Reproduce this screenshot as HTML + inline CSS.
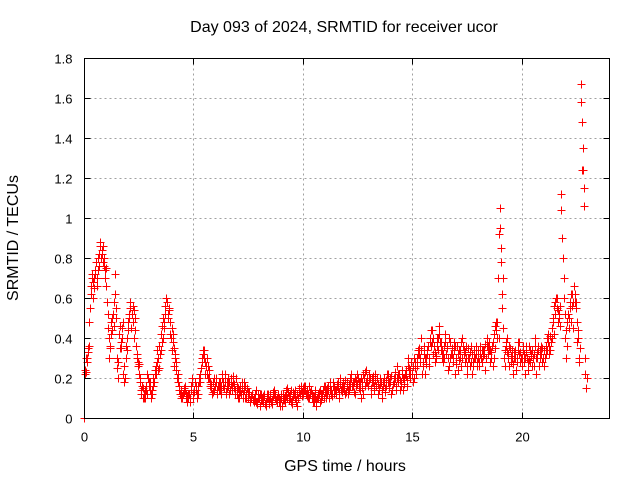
<!DOCTYPE html>
<html><head><meta charset="utf-8"><style>
body{margin:0;background:#fff}
svg{display:block;font-family:"Liberation Sans",sans-serif}
</style></head><body>
<svg id="chart" width="640" height="480" viewBox="0 0 640 480">
<rect width="640" height="480" fill="#fff"/>
<g id="grid"></g>
<g id="points"></g>
<rect x="84.5" y="58.5" width="525" height="360" fill="none" stroke="#000" stroke-width="1"/>
<g id="ticks"></g>
<text x="344" y="32" font-size="16" text-anchor="middle">Day 093 of 2024, SRMTID for receiver ucor</text>
<text x="345" y="471" font-size="16" text-anchor="middle">GPS time / hours</text>
<text transform="translate(18,238) rotate(-90)" font-size="16" text-anchor="middle">SRMTID / TECUs</text>
</svg>
<script>
const xTicks=[0,5,10,15,20];
const yTicks=[0,0.2,0.4,0.6,0.8,1,1.2,1.4,1.6,1.8];
const yTickLabels=["0","0.2","0.4","0.6","0.8","1","1.2","1.4","1.6","1.8"];
const tStart=0, tStep=0.1;
const seriesA=[0.00,0.23,0.33,0.62,0.68,0.72,0.70,0.82,0.84,0.80,0.75,0.45,0.35,0.50,0.72,0.30,0.42,0.35,0.22,0.30,0.48,0.55,0.52,0.40,0.30,0.27,0.12,0.15,0.10,0.22,
0.14,0.12,0.18,0.22,0.30,0.34,0.40,0.52,0.58,0.55,0.45,0.35,0.28,0.18,0.12,0.10,0.14,0.08,0.12,0.16,0.10,0.14,0.12,0.18,0.28,0.34,0.30,0.24,0.15,0.18,
0.16,0.12,0.18,0.20,0.15,0.12,0.16,0.20,0.18,0.14,0.12,0.10,0.15,0.18,0.12,0.10,0.08,0.12,0.09,0.07,0.10,0.12,0.08,0.06,0.10,0.12,0.09,0.14,0.10,0.08,
0.10,0.12,0.08,0.15,0.10,0.07,0.12,0.09,0.10,0.14,0.12,0.16,0.14,0.10,0.12,0.08,0.06,0.10,0.14,0.12,0.16,0.12,0.10,0.14,0.18,0.12,0.15,0.20,0.13,0.16,
0.18,0.14,0.20,0.16,0.12,0.22,0.18,0.15,0.20,0.24,0.16,0.12,0.18,0.22,0.20,0.14,0.10,0.18,0.16,0.22,0.18,0.14,0.20,0.26,0.22,0.18,0.14,0.24,0.30,0.20,
0.22,0.30,0.26,0.35,0.40,0.28,0.22,0.32,0.38,0.44,0.36,0.30,0.40,0.34,0.28,0.42,0.36,0.26,0.32,0.38,0.30,0.24,0.34,0.40,0.28,0.22,0.30,0.36,0.26,0.32,
0.30,0.36,0.28,0.34,0.40,0.38,0.30,0.26,0.46,0.48,1.05,0.55,0.30,0.36,0.32,0.28,0.22,0.34,0.30,0.38,0.26,0.32,0.36,0.24,0.28,0.34,0.40,0.30,0.26,0.32,
0.30,0.36,0.42,0.34,0.45,0.56,0.60,0.52,1.12,0.80,0.40,0.48,0.55,0.62,0.66,0.58,0.40,1.67,1.35,0.22];
const seriesB=[0.24,0.30,0.36,0.70,0.65,0.78,0.74,0.86,0.78,0.70,0.58,0.30,0.48,0.58,0.55,0.20,0.35,0.45,0.18,0.40,0.52,0.45,0.56,0.50,0.28,0.18,0.16,0.10,0.14,0.18,
0.10,0.16,0.22,0.28,0.25,0.38,0.45,0.60,0.50,0.42,0.38,0.30,0.20,0.14,0.10,0.15,0.10,0.12,0.08,0.20,0.14,0.10,0.20,0.25,0.32,0.22,0.26,0.18,0.12,0.20,
0.20,0.14,0.12,0.16,0.22,0.18,0.12,0.14,0.15,0.20,0.10,0.16,0.12,0.10,0.15,0.13,0.11,0.08,0.14,0.10,0.06,0.09,0.12,0.10,0.07,0.08,0.13,0.10,0.12,0.06,
0.06,0.09,0.14,0.11,0.08,0.13,0.10,0.06,0.15,0.11,0.16,0.12,0.10,0.13,0.08,0.14,0.10,0.12,0.09,0.16,0.10,0.14,0.18,0.11,0.12,0.16,0.10,0.14,0.18,0.12,
0.12,0.20,0.16,0.13,0.19,0.15,0.10,0.22,0.16,0.18,0.22,0.20,0.14,0.16,0.12,0.20,0.18,0.13,0.22,0.15,0.12,0.20,0.16,0.18,0.14,0.24,0.20,0.16,0.22,0.28,
0.18,0.25,0.34,0.28,0.22,0.36,0.30,0.26,0.44,0.32,0.28,0.40,0.46,0.30,0.36,0.32,0.24,0.38,0.28,0.22,0.36,0.34,0.26,0.32,0.36,0.30,0.26,0.22,0.34,0.28,
0.26,0.30,0.34,0.24,0.32,0.28,0.36,0.42,0.48,0.40,0.85,0.70,0.26,0.40,0.26,0.34,0.30,0.24,0.38,0.28,0.34,0.22,0.30,0.36,0.32,0.26,0.22,0.36,0.34,0.28,
0.26,0.40,0.32,0.38,0.50,0.52,0.48,0.56,0.90,0.70,0.30,0.45,0.62,0.45,0.58,0.38,0.30,1.48,1.15,0.15];
const seriesC=[0.22,0.28,0.48,0.66,0.60,0.74,0.80,0.88,0.82,0.76,0.66,0.40,0.42,0.52,0.62,0.25,0.46,0.40,0.26,0.36,0.44,0.58,0.48,0.44,0.32,0.22,0.14,0.12,0.16,0.20,
0.18,0.14,0.24,0.34,0.36,0.42,0.50,0.56,0.52,0.48,0.34,0.26,0.24,0.16,0.14,0.12,0.16,0.11,0.10,0.18,0.13,0.16,0.16,0.22,0.34,0.28,0.22,0.20,0.17,0.14,
0.18,0.16,0.14,0.22,0.18,0.15,0.18,0.17,0.21,0.12,0.15,0.13,0.18,0.14,0.10,0.12,0.10,0.09,0.12,0.08,0.12,0.10,0.11,0.08,0.12,0.10,0.11,0.12,0.08,0.10,
0.12,0.10,0.11,0.13,0.12,0.09,0.14,0.12,0.13,0.16,0.15,0.14,0.12,0.12,0.10,0.11,0.09,0.13,0.12,0.14,0.13,0.15,0.14,0.12,0.16,0.14,0.18,0.17,0.15,0.19,
0.16,0.17,0.22,0.18,0.16,0.20,0.14,0.18,0.23,0.20,0.19,0.15,0.21,0.19,0.17,0.17,0.14,0.20,0.19,0.18,0.21,0.17,0.23,0.20,0.19,0.22,0.17,0.21,0.26,0.24,
0.26,0.28,0.30,0.32,0.34,0.32,0.27,0.36,0.40,0.38,0.33,0.36,0.42,0.38,0.32,0.38,0.30,0.30,0.35,0.34,0.27,0.29,0.38,0.36,0.33,0.26,0.33,0.32,0.30,0.36,
0.34,0.32,0.31,0.37,0.36,0.34,0.33,0.30,0.44,0.70,0.95,0.62,0.34,0.33,0.36,0.31,0.27,0.30,0.34,0.33,0.30,0.28,0.33,0.29,0.31,0.30,0.36,0.33,0.30,0.35,
0.34,0.32,0.38,0.41,0.48,0.58,0.55,0.50,1.04,0.60,0.44,0.52,0.58,0.56,0.62,0.48,0.28,1.58,1.24,0.30];
const seriesD=[0.30,0.35,0.55,0.72,0.70,0.66,0.76,0.80,0.86,0.74,0.52,0.36,0.44,0.46,0.50,0.28,0.38,0.48,0.20,0.34,0.50,0.52,0.54,0.36,0.26,0.20,0.10,0.14,0.12,0.16,
0.12,0.20,0.26,0.24,0.32,0.46,0.48,0.58,0.54,0.40,0.42,0.32,0.22,0.12,0.11,0.13,0.12,0.10,0.14,0.12,0.18,0.12,0.18,0.30,0.30,0.26,0.20,0.16,0.13,0.16,
0.14,0.18,0.16,0.18,0.13,0.20,0.14,0.16,0.17,0.16,0.14,0.12,0.10,0.16,0.13,0.09,0.12,0.10,0.08,0.12,0.09,0.11,0.07,0.12,0.09,0.07,0.12,0.09,0.11,0.09,
0.09,0.11,0.10,0.09,0.14,0.11,0.08,0.10,0.12,0.13,0.14,0.11,0.16,0.14,0.11,0.10,0.12,0.08,0.11,0.10,0.14,0.16,0.12,0.16,0.14,0.17,0.13,0.16,0.14,0.13,
0.14,0.16,0.18,0.20,0.17,0.18,0.20,0.12,0.18,0.16,0.20,0.18,0.16,0.20,0.15,0.18,0.16,0.15,0.18,0.20,0.14,0.18,0.14,0.22,0.16,0.20,0.22,0.19,0.25,0.22,
0.20,0.22,0.32,0.30,0.26,0.30,0.34,0.30,0.36,0.40,0.31,0.34,0.38,0.34,0.30,0.35,0.40,0.32,0.30,0.36,0.32,0.30,0.30,0.34,0.30,0.35,0.28,0.28,0.30,0.26,
0.28,0.34,0.32,0.30,0.36,0.34,0.38,0.35,0.40,0.92,0.78,0.45,0.38,0.30,0.35,0.30,0.33,0.28,0.32,0.30,0.36,0.30,0.28,0.34,0.26,0.32,0.30,0.34,0.36,0.30,
0.30,0.34,0.36,0.40,0.42,0.60,0.54,0.46,0.80,0.52,0.36,0.50,0.48,0.58,0.55,0.44,0.35,1.24,1.06,0.20];
const NS="http://www.w3.org/2000/svg";
const X0=84.5,X1=609.5,Y0=418.5,Y1=58.5;
function xs(t){return X0+(t-0)/(24-0)*(X1-X0);}
function ys(v){return Y0-(v-0)/(1.8-0)*(Y0-Y1);}
const grid=document.getElementById('grid'),ticks=document.getElementById('ticks'),pts=document.getElementById('points');
function line(p,x1,y1,x2,y2,st,dash){const l=document.createElementNS(NS,'line');l.setAttribute('x1',x1);l.setAttribute('y1',y1);l.setAttribute('x2',x2);l.setAttribute('y2',y2);l.setAttribute('stroke',st);if(dash)l.setAttribute('stroke-dasharray',dash);p.appendChild(l);return l;}
function txt(p,x,y,s,anc){const t=document.createElementNS(NS,'text');t.setAttribute('x',x);t.setAttribute('y',y);t.setAttribute('font-size','13');t.setAttribute('text-anchor',anc);t.textContent=s;p.appendChild(t);return t;}
xTicks.forEach(v=>{const x=Math.round(xs(v)-0.5)+0.5;
 if(v>0){const g=line(grid,x,Y1,x,Y0,'#a0a0a0','2,3');}
 line(ticks,x,Y0,x,Y0-6,'#000');line(ticks,x,Y1,x,Y1+6,'#000');
 const t=txt(ticks,x,Y0+23,String(v),'middle');
 
 });
yTicks.forEach((v,i)=>{const y=Math.round(ys(v)-0.5)+0.5;
 if(v>0&&v<1.8){const g=line(grid,X0,y,X1,y,'#a0a0a0','2,3');}
 line(ticks,X0,y,X0+6,y,'#000');line(ticks,X1,y,X1-6,y,'#000');
 const t=txt(ticks,X0-12,y+5,yTickLabels[i],'end');
 
 });
let d='';
function cross(t,v){const x=Math.round(xs(t)-0.5)+0.5,y=Math.round(ys(v)-0.5)+0.5;d+=`M${x-4} ${y}h8M${x} ${y-4}v8`;}
seriesA.forEach((v,i)=>cross(tStart+i*tStep,v));
seriesC.forEach((v,i)=>cross(tStart+i*tStep+0.025,v));
seriesB.forEach((v,i)=>cross(tStart+i*tStep+0.05,v));
seriesD.forEach((v,i)=>cross(tStart+i*tStep+0.075,v));
const p=document.createElementNS(NS,'path');p.setAttribute('d',d);p.setAttribute('stroke','#ff0000');p.setAttribute('stroke-width','1');p.setAttribute('fill','none');p.setAttribute('shape-rendering','crispEdges');


pts.appendChild(p);
</script>
</body></html>
